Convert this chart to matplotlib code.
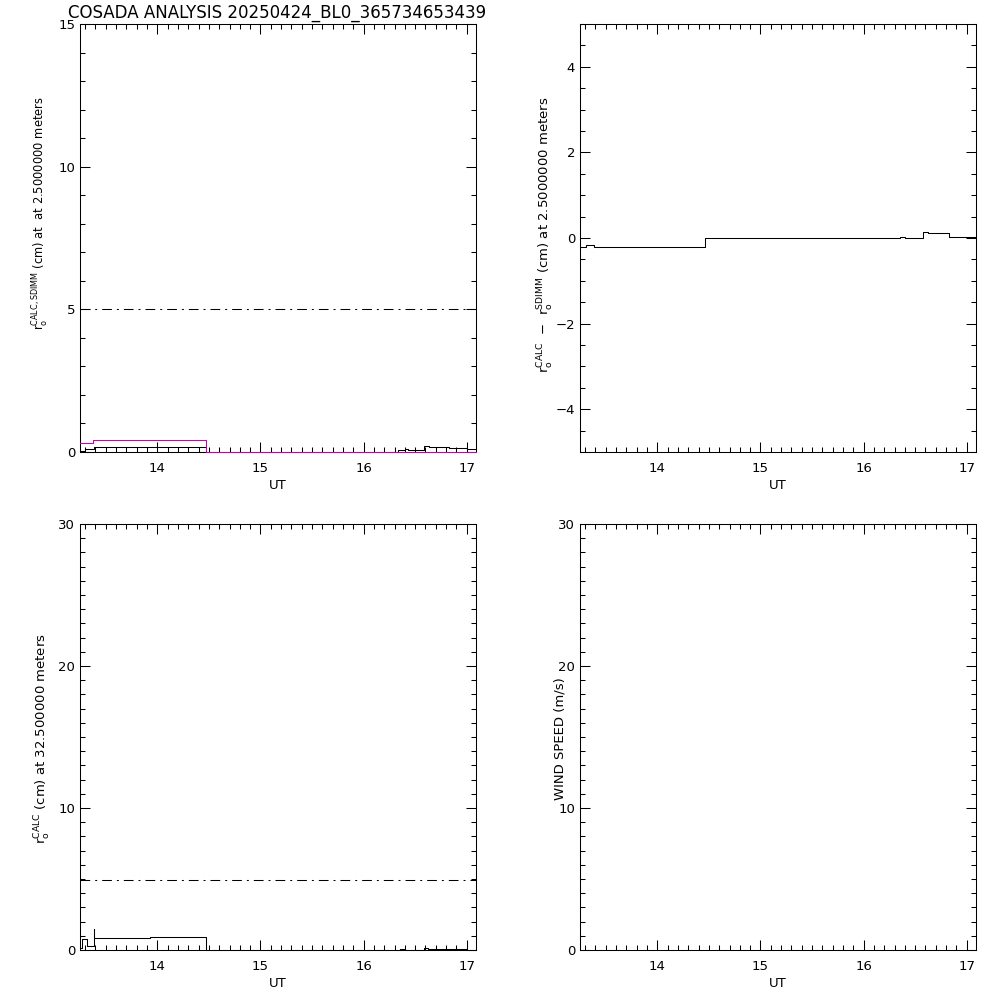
import numpy as np
import matplotlib
matplotlib.use("Agg")
import matplotlib.pyplot as plt
from matplotlib.ticker import MultipleLocator

plt.rcParams["font.family"] = "DejaVu Sans"
plt.rcParams["lines.scale_dashes"] = False

# data
title = "COSADA ANALYSIS 20250424_BL0_365734653439"
xlim = (13.25, 17.09)
xticks = [14, 15, 16, 17]

# top left: r0 CALC / SDIMM at 2.5 m (steps)
tl_black_t = [13.25, 13.30, 13.385, 14.47, 16.33, 16.40, 16.43, 16.585, 16.63, 16.83, 17.00, 17.09]
tl_black_v = [0.05, 0.10, 0.18, 0.0, 0.07, 0.10, 0.07, 0.20, 0.16, 0.13, 0.10, 0.10]
tl_mag_t = [13.25, 13.38, 14.47, 17.09]
tl_mag_v = [0.32, 0.42, 0.0, 0.0]
tl_ref = 5.0

# top right: r0 CALC - r0 SDIMM
tr_t = [13.25, 13.29, 13.31, 13.385, 14.46, 16.35, 16.40, 16.58, 16.62, 16.83, 17.00, 17.09]
tr_v = [-0.22, -0.20, -0.17, -0.21, 0.0, 0.02, 0.0, 0.14, 0.11, 0.03, 0.02, 0.02]

# bottom left: r0 CALC at 32.5 m
bl_t = [13.25, 13.27, 13.32, 13.385, 13.385, 13.93, 14.47, 16.35, 16.40, 16.585, 16.62, 16.83, 17.00, 17.09]
bl_v = [0.15, 0.75, 0.28, 1.50, 0.85, 0.92, 0.0, 0.05, 0.0, 0.16, 0.09, 0.05, 0.0, 0.0]
bl_ref = 4.9

fig = plt.figure(figsize=(10, 10), dpi=100)
lw = 0.75
dashdot = (0, (7, 3.6, 1.4, 3.6))

def make_ax(rect, ylim, major, minor):
    ax = fig.add_axes(rect)
    ax.set_xlim(*xlim)
    ax.set_ylim(*ylim)
    ax.set_xticks(xticks)
    ax.xaxis.set_minor_locator(MultipleLocator(0.1))
    ax.yaxis.set_major_locator(MultipleLocator(major))
    ax.yaxis.set_minor_locator(MultipleLocator(minor))
    ax.tick_params(which="both", direction="in", top=True, right=True, width=lw, labelsize=9.5)
    ax.tick_params(which="major", length=7.2)
    ax.tick_params(which="minor", length=3.6)
    ax.tick_params(axis="x", pad=7)
    ax.tick_params(axis="y", pad=3.5)
    for s in ax.spines.values():
        s.set_linewidth(lw)
    ax.set_xlabel("UT", fontsize=9.5, labelpad=3)
    return ax

ax1 = make_ax([0.08, 0.548, 0.396, 0.428], (0, 15), 5, 1)
ax2 = make_ax([0.58, 0.548, 0.396, 0.428], (-5, 5), 2, 0.5)
ax3 = make_ax([0.08, 0.05, 0.396, 0.426], (0, 30), 10, 1)
ax4 = make_ax([0.58, 0.05, 0.396, 0.426], (0, 30), 10, 1)

ax1.axhline(tl_ref, color="black", lw=lw, linestyle=dashdot)
ax1.plot(tl_black_t, tl_black_v, color="black", lw=lw, drawstyle="steps-post", clip_on=False, zorder=3)
ax1.plot(tl_mag_t, tl_mag_v, color="#cc00aa", lw=lw, drawstyle="steps-post", clip_on=False, zorder=4)

ax2.plot(tr_t, tr_v, color="black", lw=lw, drawstyle="steps-post")

ax3.axhline(bl_ref, color="black", lw=lw, linestyle=dashdot)
ax3.plot(bl_t, bl_v, color="black", lw=lw, drawstyle="steps-post", clip_on=False, zorder=3)

fig.text(0.2775, 0.9875, title, fontsize=12, ha="center", va="center")

lab = dict(rotation=90, ha="center", va="center", fontsize=9.5)
fig.text(0.041, 0.787, r"r$_{\rm o}^{\rm CALC,SDIMM}$ (cm) at  at 2.5000000 meters",
         rotation=90, ha="center", va="center", fontsize=8.3)
fig.text(0.546, 0.765, r"r$_{\rm o}^{\rm CALC}$  $-$  r$_{\rm o}^{\rm SDIMM}$ (cm) at 2.5000000 meters", **lab)
fig.text(0.043, 0.261, r"r$_{\rm o}^{\rm CALC}$ (cm) at 32.500000 meters", **lab)
fig.text(0.560, 0.261, "WIND SPEED (m/s)", **lab)

fig.savefig("out.png", dpi=100, facecolor="white")
